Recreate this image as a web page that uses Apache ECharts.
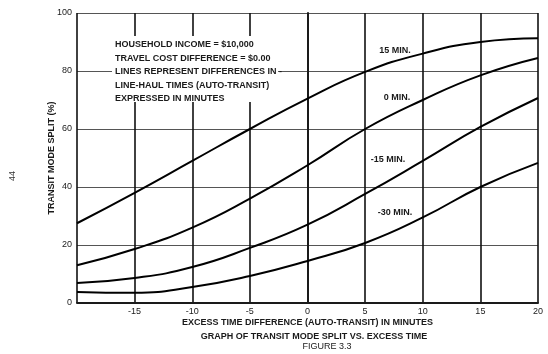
<!DOCTYPE html>
<html>
<head>
<meta charset="utf-8">
<script src="https://cdn.jsdelivr.net/npm/echarts@6/dist/echarts.min.js"></script>
<style>
  html, body { margin: 0; padding: 0; background: #fff; }
  #chart { width: 548px; height: 354px; }
</style>
</head>
<body>
<div id="chart"></div>
<script>
// excess time difference (minutes)
const excessTime = [-20, -15, -10, -5, 0, 5, 10, 15, 20];
// transit mode split (%) for each line-haul time difference
const split15 = [27.5, 38, 49, 60, 70.5, 79.7, 86, 90, 91.3];
const split0 = [13, 18.6, 26, 36, 47.5, 60, 70, 78.5, 84.5];
const splitMinus15 = [6.9, 8.6, 12.4, 19, 27, 37.6, 49, 60.7, 70.7];
const splitMinus30 = [3.8, 3.5, 5.5, 9.3, 14.5, 20.7, 29.5, 40, 48.3];
const lineNames = ['15 MIN.', '0 MIN.', '-15 MIN.', '-30 MIN.'];
const noteLines = [
  'HOUSEHOLD INCOME = $10,000',
  'TRAVEL COST DIFFERENCE = $0.00',
  'LINES REPRESENT DIFFERENCES IN -',
  'LINE-HAUL TIMES (AUTO-TRANSIT)',
  'EXPRESSED IN MINUTES'
];

const font = 'Liberation Sans';
const ink = '#1a1a1a';

function pairs(ys) {
  return excessTime.map((x, i) => [x, ys[i]]);
}

const chart = echarts.init(document.getElementById('chart'));

// label positions for the curve names (pixels)
const lineLabelPos = [[395, 51], [397, 98], [388, 160], [395, 213]];

const graphics = [
  {
    type: 'rect',
    left: 112, top: 36, z: 100,
    shape: { width: 166, height: 66 },
    style: { fill: '#fff' }
  },
  {
    type: 'text',
    left: 115, top: 38, z: 101,
    style: {
      text: noteLines.join('\n'),
      font: 'bold 9px "' + font + '"',
      lineHeight: 13.5,
      fill: ink
    }
  },
  {
    type: 'text',
    x: 13, y: 176, rotation: Math.PI / 2, z: 101,
    style: { text: '44', font: '9px "' + font + '"', fill: '#333', align: 'center', verticalAlign: 'middle' }
  },
  {
    type: 'text',
    x: 314, y: 337, z: 101,
    style: { text: 'GRAPH OF TRANSIT MODE SPLIT VS. EXCESS TIME', font: 'bold 9px "' + font + '"', fill: ink, align: 'center', verticalAlign: 'middle' }
  },
  {
    type: 'text',
    x: 327, y: 347, z: 101,
    style: { text: 'FIGURE 3.3', font: '9px "' + font + '"', fill: ink, align: 'center', verticalAlign: 'middle' }
  }
];
lineNames.forEach((name, i) => {
  graphics.push({
    type: 'text',
    x: lineLabelPos[i][0], y: lineLabelPos[i][1], z: 101,
    style: { text: name, font: 'bold 9px "' + font + '"', fill: ink, align: 'center', verticalAlign: 'middle' }
  });
});

chart.setOption({
  animation: false,
  backgroundColor: '#fff',
  textStyle: { fontFamily: font, color: ink },
  grid: { left: 77, right: 10, top: 13, bottom: 51 },
  xAxis: {
    type: 'value',
    min: -20, max: 20, interval: 5,
    name: 'EXCESS TIME DIFFERENCE (AUTO-TRANSIT) IN MINUTES',
    nameLocation: 'middle',
    nameGap: 15,
    nameMoveOverlap: false,
    nameTextStyle: { fontSize: 9, fontWeight: 'bold', color: ink },
    axisLine: { lineStyle: { color: ink, width: 2 } },
    axisTick: { show: false },
    axisLabel: {
      fontSize: 9, color: ink, margin: 4,
      formatter: v => (v === -20 ? '' : String(v))
    },
    splitLine: { show: true, lineStyle: { color: '#111', width: 1.6 } }
  },
  yAxis: {
    type: 'value',
    min: 0, max: 100, interval: 20,
    name: 'TRANSIT MODE SPLIT (%)',
    nameLocation: 'middle',
    nameGap: 21,
    nameMoveOverlap: false,
    nameTextStyle: { fontSize: 9, fontWeight: 'bold', color: ink },
    axisLine: { show: true, lineStyle: { color: ink, width: 2 } },
    axisTick: { show: false },
    axisLabel: { fontSize: 9, color: ink, margin: 5 },
    splitLine: { show: true, lineStyle: { color: '#555', width: 1 } }
  },
  series: [split15, split0, splitMinus15, splitMinus30].map((ys, i) => ({
    name: lineNames[i],
    type: 'line',
    data: pairs(ys),
    smooth: true,
    showSymbol: false,
    lineStyle: { color: '#000', width: 2 }
  })),
  graphic: graphics
});
</script>
</body>
</html>
